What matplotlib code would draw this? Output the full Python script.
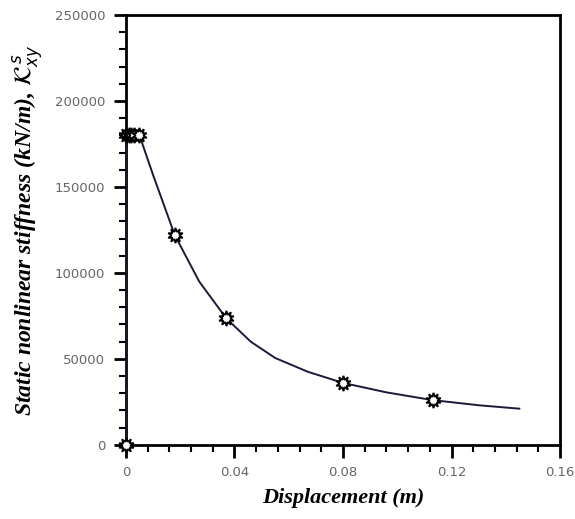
import numpy as np
import matplotlib.pyplot as plt
from matplotlib.ticker import MultipleLocator

# marked data points
disp = [0.0, 0.0, 0.001, 0.002, 0.003, 0.005, 0.018, 0.037, 0.080, 0.113]
stiff = [0, 180000, 180000, 180000, 180000, 180000, 122000, 73500, 36000, 26000]

# curve through the points (extra unmarked points)
line_x = [0.0, 0.0, 0.001, 0.002, 0.003, 0.005, 0.010, 0.018, 0.027, 0.037,
          0.046, 0.055, 0.067, 0.080, 0.096, 0.113, 0.130, 0.145]
line_y = [0, 180000, 180000, 180000, 180000, 180000, 157000, 122000, 95000, 73500,
          60000, 50500, 42500, 36000, 30500, 26000, 23000, 21000]

fig = plt.figure(figsize=(5.75, 5.19), dpi=100)
ax = fig.add_axes([0.219, 0.143, 0.755, 0.828])

ax.plot(line_x, line_y, color='#1a1a3a', lw=1.4, zorder=3)
ax.plot(disp, stiff, ls='none', marker=(10, 1, 0), ms=11, mfc='white', mec='black',
        mew=1.3, zorder=4, clip_on=False)

ax.set_xlim(0, 0.16)
ax.set_ylim(0, 250000)
ax.xaxis.set_major_locator(MultipleLocator(0.04))
ax.xaxis.set_minor_locator(MultipleLocator(0.008))
ax.yaxis.set_major_locator(MultipleLocator(50000))
ax.yaxis.set_minor_locator(MultipleLocator(10000))
ax.set_xticks([0, 0.04, 0.08, 0.12, 0.16])
ax.set_xticklabels(['0', '0.04', '0.08', '0.12', '0.16'])

for s in ax.spines.values():
    s.set_linewidth(2.0)
ax.tick_params(which='major', direction='out', length=9, width=2.0,
               labelsize=9.5, labelcolor='#666666', pad=6)
ax.tick_params(which='minor', direction='out', length=5, width=1.5)

ax.set_xlabel('Displacement (m)', fontsize=16, fontweight='bold', fontstyle='italic',
              family='Liberation Serif', labelpad=7)
ax.set_ylabel(r'Static nonlinear stiffness (kN/m), $\mathcal{K}^{\,s}_{xy}$', fontsize=17,
              fontweight='bold', fontstyle='italic', family='Liberation Serif', labelpad=6)

fig.savefig('out.png')
